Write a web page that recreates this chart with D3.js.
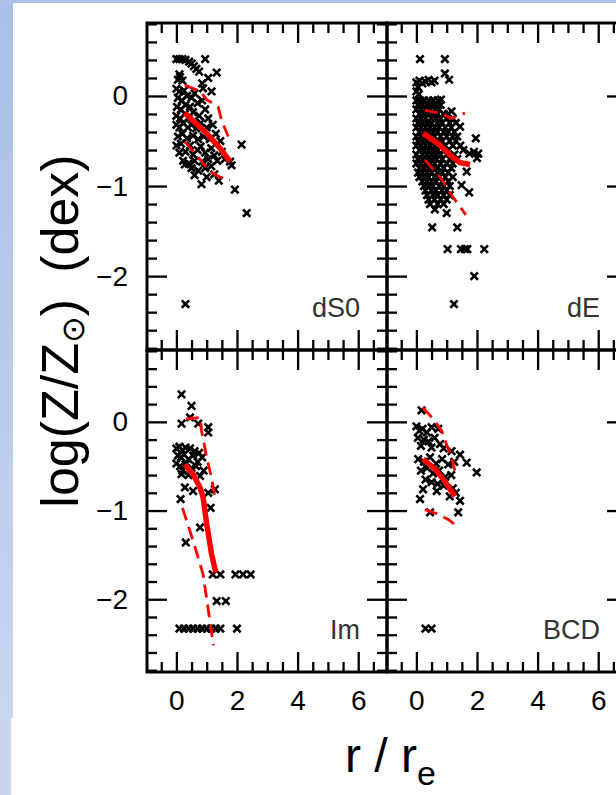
<!DOCTYPE html>
<html><head><meta charset="utf-8">
<script src="https://cdn.jsdelivr.net/npm/d3@7"></script>
<style>html,body{margin:0;padding:0;background:#fff;}svg{display:block;}</style>
</head><body>
<svg id="c" width="616" height="795"></svg>
<script>
// ---------- DATA ----------
const panelNames = ["dS0", "dE", "Im", "BCD"];
const xTickLabels = [0, 2, 4, 6];
const yTickLabels = [0, -1, -2];

const dS0Points = [
 [0.0,0.41],[0.1,0.41],[0.2,0.41],[0.3,0.40],[0.42,0.38],[0.5,0.36],[0.58,0.33],[0.66,0.30],[0.75,0.27],
 [0.95,0.41],[1.33,0.26],[1.05,0.2],[0.85,0.14],[0.88,0.085],[1.16,0.05],[0.12,0.21],[0.05,0.18],[0.2,0.17],[0.1,0.24],
 [0.0,0.08],[0.1,0.05],[0.25,0.06],[0.05,-0.02],[0.18,-0.05],[0.35,0.0],[0.5,-0.02],[0.6,0.03],[0.02,-0.12],[0.15,-0.15],
 [0.3,-0.1],[0.45,-0.12],[0.7,-0.08],[0.85,-0.05],[0.0,-0.22],[0.12,-0.25],[0.28,-0.2],[0.4,-0.25],[0.55,-0.18],[0.75,-0.22],
 [0.95,-0.15],[1.05,-0.25],
 [0.0,-0.32],[0.1,-0.35],[0.22,-0.3],[0.38,-0.35],[0.5,-0.32],[0.65,-0.36],[0.8,-0.3],[1.0,-0.35],[1.2,-0.32],[0.05,-0.45],
 [0.2,-0.42],[0.35,-0.47],[0.55,-0.44],[0.72,-0.48],[0.9,-0.45],[1.1,-0.48],[1.3,-0.42],[1.45,-0.5],[0.0,-0.55],[0.15,-0.53],
 [0.45,-0.55],[0.8,-0.56],[1.15,-0.58],
 [0.1,-0.63],[0.3,-0.62],[0.55,-0.65],[0.7,-0.6],[0.95,-0.63],[1.25,-0.66],[1.5,-0.62],[2.15,-0.54],[0.22,-0.72],[0.4,-0.75],
 [0.6,-0.72],[0.85,-0.73],[1.05,-0.7],[1.35,-0.72],[1.6,-0.7],[1.77,-0.73],[1.82,-0.77],[0.28,-0.76],[0.5,-0.8],[0.72,-0.83],
 [0.95,-0.8],[1.15,-0.78],
 [0.83,-0.98],[1.4,-0.94],[1.93,-1.04],[2.32,-1.3],[0.3,-2.31],[0.6,-0.88],[1.0,-0.9],[1.25,-0.87]
];
const dS0Median = [[0.28,-0.19],[1.0,-0.415],[1.44,-0.58],[1.77,-0.73]];
const dS0Upper  = [[0.28,0.12],[0.78,0.05],[1.0,-0.04],[1.38,-0.12],[1.49,-0.27],[1.71,-0.45]];
const dS0Lower  = [[0.28,-0.51],[0.67,-0.66],[1.1,-0.84],[1.43,-0.9],[1.77,-0.93]];

const dEPoints = [
 [0.12,0.41],[0.94,0.41],[0.94,0.25],[1.08,0.18],[0.0,0.15],[0.1,0.17],[0.2,0.14],[0.3,0.16],[0.4,0.18],[0.5,0.15],[0.6,0.17],
 [0.05,0.1],[0.81,-0.04],[0.0,0.05],[0.08,0.02],
 [0.0,-0.05],[0.12,-0.05],[0.25,-0.05],[0.4,-0.05],[0.55,-0.05],[0.7,-0.05],
 [0.05,-0.1],[0.2,-0.1],[0.35,-0.1],[0.5,-0.1],[0.65,-0.1],[0.8,-0.1],
 [0.0,-0.15],[0.15,-0.15],[0.3,-0.15],[0.45,-0.15],[0.6,-0.15],[0.75,-0.15],[1.16,-0.17],
 [0.1,-0.2],[0.25,-0.2],[0.4,-0.2],[0.55,-0.2],[0.7,-0.2],[0.9,-0.2],[1.05,-0.2],
 [0.0,-0.25],[0.15,-0.25],[0.3,-0.25],[0.5,-0.25],[0.65,-0.25],[0.8,-0.25],[1.0,-0.25],[1.2,-0.25],
 [0.05,-0.3],[0.2,-0.3],[0.35,-0.3],[0.5,-0.3],[0.7,-0.3],[0.85,-0.3],[1.1,-0.3],[1.3,-0.3],[1.44,-0.34],
 [0.0,-0.35],[0.15,-0.35],[0.3,-0.35],[0.45,-0.35],[0.6,-0.35],[0.75,-0.35],[0.95,-0.35],[1.15,-0.35],
 [0.1,-0.4],[0.25,-0.4],[0.4,-0.4],[0.55,-0.4],[0.7,-0.4],[0.9,-0.4],[1.05,-0.4],[1.25,-0.4],
 [0.0,-0.45],[0.15,-0.45],[0.3,-0.45],[0.45,-0.45],[0.6,-0.45],[0.8,-0.45],[1.0,-0.45],[1.2,-0.45],[1.35,-0.45],[1.96,-0.47],
 [0.05,-0.5],[0.2,-0.5],[0.35,-0.5],[0.5,-0.5],[0.7,-0.5],[0.85,-0.5],[1.1,-0.5],[1.3,-0.5],
 [0.0,-0.55],[0.15,-0.55],[0.3,-0.55],[0.45,-0.55],[0.6,-0.55],[0.75,-0.55],[0.95,-0.55],[1.2,-0.55],[1.45,-0.55],
 [0.1,-0.6],[0.25,-0.6],[0.4,-0.6],[0.55,-0.6],[0.7,-0.6],[0.9,-0.6],[1.05,-0.6],[1.55,-0.6],[1.75,-0.64],[2.04,-0.64],
 [0.0,-0.65],[0.2,-0.65],[0.35,-0.65],[0.5,-0.65],[0.65,-0.65],[0.8,-0.65],[1.0,-0.65],[1.25,-0.65],[1.9,-0.62],
 [0.05,-0.7],[0.2,-0.7],[0.35,-0.7],[0.5,-0.7],[0.65,-0.7],[0.85,-0.7],[1.1,-0.7],[1.35,-0.7],[2.0,-0.69],
 [0.0,-0.75],[0.15,-0.75],[0.3,-0.75],[0.45,-0.75],[0.6,-0.75],[0.8,-0.75],[1.0,-0.75],[1.2,-0.75],
 [0.1,-0.8],[0.25,-0.8],[0.4,-0.8],[0.55,-0.8],[0.7,-0.8],[0.9,-0.8],[1.15,-0.8],[1.66,-0.84],
 [0.05,-0.85],[0.2,-0.85],[0.35,-0.85],[0.5,-0.85],[0.7,-0.85],[0.85,-0.85],[1.05,-0.85],
 [0.1,-0.9],[0.25,-0.9],[0.4,-0.9],[0.6,-0.9],[0.75,-0.9],[0.95,-0.9],[1.2,-0.9],
 [0.2,-0.95],[0.35,-0.95],[0.5,-0.95],[0.65,-0.95],[0.85,-0.95],[1.05,-0.95],[1.49,-0.99],
 [0.25,-1.0],[0.4,-1.0],[0.55,-1.0],[0.75,-1.0],[0.9,-1.0],[1.1,-1.0],
 [0.3,-1.05],[0.5,-1.05],[0.65,-1.05],[0.85,-1.05],[1.0,-1.05],[1.74,-1.07],
 [0.35,-1.1],[0.55,-1.1],[0.7,-1.1],[0.9,-1.1],[1.1,-1.1],
 [0.4,-1.15],[0.6,-1.15],[0.8,-1.15],[1.0,-1.15],
 [0.45,-1.2],[0.7,-1.2],[0.9,-1.2],
 [0.61,-1.26],[1.0,-1.3],[0.52,-1.46],[1.35,-1.46],[1.03,-1.7],[1.47,-1.7],[1.6,-1.7],[1.68,-1.7],[2.24,-1.7],
 [1.91,-2.0],[1.24,-2.31]
];
const dEMedian = [[0.22,-0.415],[0.72,-0.53],[1.16,-0.67],[1.44,-0.74],[1.77,-0.76]];
const dEUpper  = [[0.28,-0.16],[0.78,-0.19],[1.16,-0.25],[1.6,-0.19]];
const dELower  = [[0.28,-0.71],[0.78,-0.9],[1.16,-1.1],[1.63,-1.32]];

const ImPoints = [
 [0.17,0.31],[0.5,0.18],[0.17,-0.02],[0.45,0.05],[0.72,-0.02],[1.05,-0.06],[1.05,-0.12],
 [0.0,-0.3],[0.1,-0.28],[0.2,-0.32],[0.3,-0.29],[0.45,-0.3],[0.6,-0.33],[0.75,-0.35],[0.05,-0.38],[0.15,-0.4],
 [0.25,-0.37],[0.4,-0.42],[0.55,-0.38],[0.7,-0.45],[0.85,-0.4],[0.0,-0.47],[0.12,-0.5],[0.3,-0.48],[0.5,-0.52],
 [0.65,-0.5],[0.9,-0.55],[0.2,-0.55],[0.4,-0.6],
 [0.17,-0.59],[0.78,-0.61],[0.28,-0.74],[0.55,-0.78],[1.05,-0.8],[1.27,-0.76],[0.14,-0.87],[1.13,-0.97],
 [0.78,-1.19],[0.31,-1.36],
 [1.2,-1.72],[1.45,-1.72],[1.95,-1.72],[2.2,-1.72],[2.45,-1.72],[1.33,-2.02],[1.63,-2.02],
 [0.1,-2.33],[0.25,-2.33],[0.4,-2.33],[0.55,-2.33],[0.7,-2.33],[0.85,-2.33],[1.0,-2.33],[1.15,-2.33],
 [1.3,-2.33],[1.45,-2.33],[2.0,-2.33]
];
const ImMedian = [[0.28,-0.48],[0.55,-0.59],[0.78,-0.74],[0.88,-0.85],[1.0,-1.15],[1.16,-1.49],[1.3,-1.7]];
const ImUpper  = [[0.31,0.03],[0.78,0.05],[0.83,-0.1],[1.0,-0.4],[1.16,-0.63],[1.27,-0.85]];
const ImLower  = [[0.2,-0.97],[0.55,-1.34],[0.88,-1.72],[1.1,-2.23],[1.22,-2.52]];

const BCDPoints = [
 [0.17,0.13],[0.0,-0.05],[0.1,-0.1],[0.2,-0.08],[0.35,-0.12],[0.5,-0.06],[0.72,-0.08],[0.05,-0.18],[0.25,-0.2],
 [0.4,-0.22],[0.6,-0.18],[0.78,-0.25],[0.15,-0.27],[0.5,-0.29],[0.9,-0.3],[1.16,-0.33],[1.44,-0.37],[1.66,-0.46],
 [1.99,-0.57],[0.06,-0.42],[0.25,-0.45],[0.45,-0.4],[0.65,-0.47],[0.85,-0.42],[1.05,-0.48],[1.25,-0.45],[0.15,-0.55],
 [0.35,-0.52],[0.55,-0.58],[0.75,-0.55],[0.95,-0.62],[1.15,-0.6],[0.3,-0.65],[0.5,-0.68],[0.7,-0.7],[0.9,-0.72],
 [1.2,-0.75],[0.22,-0.76],[0.12,-0.87],[0.67,-0.78],[1.1,-0.84],[1.44,-0.89],[1.38,-1.02],[0.45,-1.02],[1.3,-0.8],
 [0.3,-2.33],[0.5,-2.33]
];
const BCDMedian = [[0.22,-0.42],[0.61,-0.53],[0.94,-0.67],[1.27,-0.84]];
const BCDUpper  = [[0.22,0.16],[0.61,0.01],[0.83,-0.1],[0.99,-0.25],[1.16,-0.4],[1.27,-0.55]];
const BCDLower  = [[0.28,-0.99],[0.72,-1.04],[1.05,-1.1],[1.24,-1.15]];

// ---------- LAYOUT ----------
const svg = d3.select("#c");
const W = 616, H = 795;
const colX = [147, 387];
const rowY = [23, 350];
const pw = 240;
const ph = [327, 322];
const xDomain = [-0.97, 6.95];
const yDomain = [-2.82, 0.81];
const FONT = "'Liberation Sans', Arial, sans-serif";

const defs = svg.append("defs");
const g1 = defs.append("linearGradient").attr("id","bg").attr("x1",0).attr("y1",0).attr("x2",0).attr("y2",1);
g1.append("stop").attr("offset","0%").attr("stop-color","#a9bfe7");
g1.append("stop").attr("offset","100%").attr("stop-color","#c9d6ef");
svg.append("rect").attr("x",0).attr("y",0).attr("width",W).attr("height",H).attr("fill","#ffffff");
svg.append("rect").attr("x",0).attr("y",0).attr("width",13).attr("height",718).attr("fill","url(#bg)");
svg.append("rect").attr("x",0).attr("y",718).attr("width",11).attr("height",H-718).attr("fill","#c8d5ee");
svg.append("rect").attr("x",0).attr("y",0).attr("width",W).attr("height",3).attr("fill","#abc1e7");

const panels = [
  {name:"dS0", col:0, row:0, pts:dS0Points, med:dS0Median, up:dS0Upper, lo:dS0Lower},
  {name:"dE",  col:1, row:0, pts:dEPoints,  med:dEMedian,  up:dEUpper,  lo:dELower},
  {name:"Im",  col:0, row:1, pts:ImPoints,  med:ImMedian,  up:ImUpper,  lo:ImLower},
  {name:"BCD", col:1, row:1, pts:BCDPoints, med:BCDMedian, up:BCDUpper, lo:BCDLower}
];

const xMinor = d3.range(-0.5, 7.0, 0.5).filter(v => Math.abs(v % 2) > 1e-6);
const yMinor = d3.range(-2.8, 0.81, 0.2).map(v => Math.round(v*10)/10).filter(v => Math.abs(v - Math.round(v)) > 1e-6);
const fmt = d => d3.format("d")(d).replace("-", "\u2212");

const markerPath = "M-3.7,-3.7L3.7,3.7M-3.7,3.7L3.7,-3.7";

panels.forEach(p => {
  const x0 = colX[p.col], y0 = rowY[p.row];
  const x = d3.scaleLinear().domain(xDomain).range([x0, x0 + pw]);
  const y = d3.scaleLinear().domain(yDomain).range([y0 + ph[p.row], y0]);
  const g = svg.append("g");

  const cid = "clip" + p.name;
  defs.append("clipPath").attr("id", cid).append("rect")
    .attr("x", x0).attr("y", y0).attr("width", pw).attr("height", ph[p.row]);
  const layer = g.append("g").attr("clip-path", `url(#${cid})`);

  layer.append("g").selectAll("path").data(p.pts).join("path")
    .attr("d", markerPath)
    .attr("transform", d => `translate(${x(d[0])},${y(d[1])})`)
    .attr("stroke", "#000").attr("stroke-width", 2.6).attr("fill", "none");

  const line = d3.line().x(d => x(d[0])).y(d => y(d[1]));
  layer.append("path").attr("d", line(p.up)).attr("fill","none").attr("stroke","#ff0000")
    .attr("stroke-width", 2.8).attr("stroke-dasharray","13,7");
  layer.append("path").attr("d", line(p.lo)).attr("fill","none").attr("stroke","#ff0000")
    .attr("stroke-width", 2.8).attr("stroke-dasharray","13,7");
  layer.append("path").attr("d", line(p.med)).attr("fill","none").attr("stroke","#ff0000")
    .attr("stroke-width", 5.5).attr("stroke-linecap","butt");

  const yb = y0 + ph[p.row];
  const mk = (axisGen, tx, ty, values, size, labels, pad) => {
    const a = axisGen.tickValues(values).tickSize(-size).tickPadding(pad || 3)
      .tickFormat(labels ? fmt : () => "");
    const ag = g.append("g").attr("transform", `translate(${tx},${ty})`).call(a);
    ag.select(".domain").remove();
    ag.selectAll(".tick line").attr("stroke","#000").attr("stroke-width",2.3);
    ag.selectAll(".tick text").attr("fill","#000").style("font-family",FONT).style("font-size","28px");
    return ag;
  };
  mk(d3.axisBottom(x), 0, yb, xTickLabels, 20, p.row === 1, 18);
  mk(d3.axisBottom(x), 0, yb, xMinor, 10, false);
  mk(d3.axisTop(x), 0, y0, xTickLabels, 20, false);
  mk(d3.axisTop(x), 0, y0, xMinor, 10, false);
  mk(d3.axisLeft(y), x0, 0, yTickLabels, 20, p.col === 0, 19);
  mk(d3.axisLeft(y), x0, 0, yMinor, 10, false);
  mk(d3.axisRight(y), x0 + pw, 0, yTickLabels, 20, false);
  mk(d3.axisRight(y), x0 + pw, 0, yMinor, 10, false);

  g.append("rect").attr("x", x0).attr("y", y0).attr("width", pw).attr("height", ph[p.row])
    .attr("fill","none").attr("stroke","#000").attr("stroke-width",3);

  g.append("text").attr("x", x0 + 213).attr("y", yb - 33)
    .attr("text-anchor","end").attr("fill","#333")
    .style("font-family",FONT).style("font-size","27px")
    .text(p.name);
});

// axis titles
const yt = svg.append("text")
  .attr("transform","translate(78,331) rotate(-90)")
  .attr("text-anchor","middle")
  .style("font-family",FONT).style("font-size","52px")
  .attr("fill","#000");
yt.append("tspan").text("log(Z/Z");
yt.append("tspan").attr("dy", 6).style("font-size","32px").style("font-family","'DejaVu Sans', sans-serif").text("\u2299");
yt.append("tspan").attr("dy", -6).text(")\u2002(dex)");

const xt = svg.append("text")
  .attr("x", 345).attr("y", 772)
  .style("font-family",FONT).style("font-size","48px")
  .attr("fill","#000");
xt.append("tspan").text("r / r");
xt.append("tspan").attr("dy", 13).style("font-size","34px").text("e");
</script>
</body></html>
